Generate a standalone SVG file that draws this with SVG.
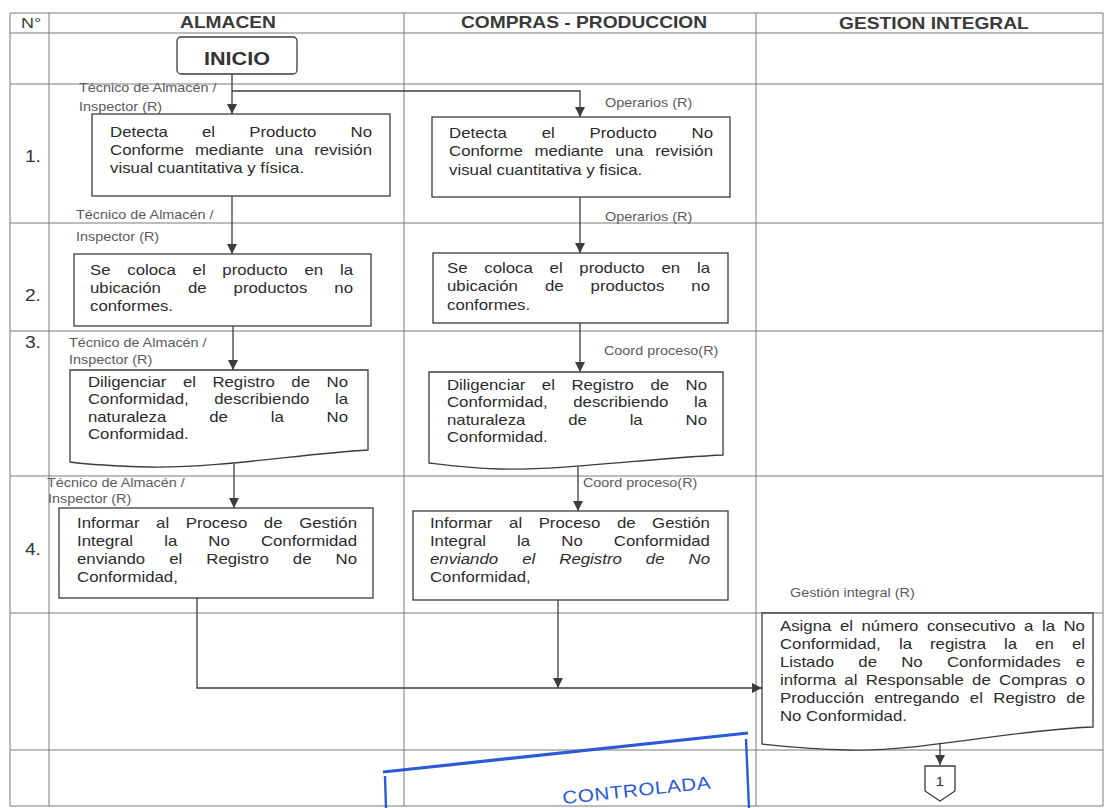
<svg xmlns="http://www.w3.org/2000/svg" width="1107" height="808" viewBox="0 0 1107 808">
  <style>
    text { font-family: "Liberation Sans", Arial, sans-serif; }
    .sx { transform: scale(1.2,1); transform-origin: 0 0; transform-box: view-box; }
    .grid { stroke: #7a7a7a; stroke-width: 1; fill: none; }
    .box { fill: #fff; stroke: #3c3c3c; stroke-width: 1.3; }
    .conn { stroke: #3c3c3c; stroke-width: 1.3; fill: none; }
    .arr { marker-end: url(#ah); }
    .bt { font-size: 14px; fill: #2b2b2b; }
    .lb { font-size: 12px; fill: #5a5a5a; }
    .hd { font-size: 16px; font-weight: bold; fill: #3a3a3a; text-anchor: middle; }
    .num { font-size: 16px; fill: #333; }
    .stamp { stroke: #2a5ad6; fill: none; }
  </style>
  <defs>
    <marker id="ah" markerUnits="userSpaceOnUse" markerWidth="10" markerHeight="10" refX="10" refY="5" orient="auto">
      <path d="M0,0 L10,5 L0,10 z" fill="#3c3c3c"/>
    </marker>
  </defs>

  <rect width="1107" height="808" fill="#fff"/>

  <!-- table grid -->
  <g id="grid" class="grid">
    <path d="M10,13 H1103 M10,33 H1103 M10,84 H1103 M10,223 H1103 M10,331 H1103 M10,476 H1103 M10,613 H1103 M10,750 H1103 M10,806 H1103"/>
    <path d="M10,13 V806 M49,13 V806 M404,13 V806 M756,13 V806 M1103,13 V806"/>
  </g>

  <!-- column headings and step numbers -->
  <g id="headers">
    <text class="sx" x="17.5" y="28" style="font-size:15px;fill:#3a3a3a">N°</text>
    <text class="hd sx" x="190" y="28.5">ALMACEN</text>
    <text class="hd sx" x="486.7" y="28.5">COMPRAS - PRODUCCION</text>
    <text class="hd sx" x="778.3" y="29.5">GESTION INTEGRAL</text>
    <text class="num sx" x="20.8" y="162">1.</text>
    <text class="num sx" x="20.8" y="301">2.</text>
    <text class="num sx" x="20.8" y="348">3.</text>
    <text class="num sx" x="20.8" y="555">4.</text>
  </g>

  <!-- connectors -->
  <g id="connectors">
    <path class="conn arr" d="M232,74 V114"/>
    <path class="conn arr" d="M232,91 H580 V117"/>
    <path class="conn arr" d="M232,196 V254"/>
    <path class="conn arr" d="M580,197 V253"/>
    <path class="conn arr" d="M233,326 V370"/>
    <path class="conn arr" d="M580,323 V372"/>
    <path class="conn arr" d="M234,464 V508"/>
    <path class="conn arr" d="M578,465 V511"/>
    <path class="conn arr" d="M197,598 V688 H762"/>
    <path class="conn arr" d="M558,600 V688"/>
    <path class="conn arr" d="M940,744 V765"/>
  </g>

  <!-- start terminal -->
  <g id="inicio">
    <rect class="box" x="177" y="37" width="120" height="37" rx="4"/>
    <text class="sx" x="197.5" y="65" style="font-size:18px;font-weight:bold;fill:#333;text-anchor:middle">INICIO</text>
  </g>

  <!-- step 1 -->
  <g id="step1-almacen">
    <text class="lb sx" x="65.8" y="92.5">Técnico de Almacén /</text>
    <text class="lb sx" x="65.8" y="111">Inspector (R)</text>
    <rect class="box" x="92" y="114" width="298" height="82"/>
    <text class="bt sx" y="137"><tspan x="91.7">Detecta</tspan><tspan x="168.3">el</tspan><tspan x="207.7">Producto</tspan><tspan x="292.1">No</tspan></text>
    <text class="bt sx" y="155"><tspan x="91.7">Conforme</tspan><tspan x="162.4">mediante</tspan><tspan x="229.2">una</tspan><tspan x="261.8">revisión</tspan></text>
    <text class="bt sx" x="91.7" y="173">visual cuantitativa y física.</text>
  </g>
  <g id="step1-compras">
    <text class="lb sx" x="504.2" y="107">Operarios (R)</text>
    <rect class="box" x="432" y="117" width="298" height="80"/>
    <text class="bt sx" y="138"><tspan x="374.2">Detecta</tspan><tspan x="451.4">el</tspan><tspan x="491.3">Producto</tspan><tspan x="576.3">No</tspan></text>
    <text class="bt sx" y="156.5"><tspan x="374.2">Conforme</tspan><tspan x="445.4">mediante</tspan><tspan x="512.8">una</tspan><tspan x="546">revisión</tspan></text>
    <text class="bt sx" x="374.2" y="175">visual cuantitativa y fisica.</text>
  </g>

  <!-- step 2 -->
  <g id="step2-almacen">
    <text class="lb sx" x="63.3" y="219">Técnico de Almacén /</text>
    <text class="lb sx" x="63.3" y="241">Inspector (R)</text>
    <rect class="box" x="74" y="254" width="297" height="72"/>
    <text class="bt sx" y="275"><tspan x="75">Se</tspan><tspan x="106.1">coloca</tspan><tspan x="160.5">el</tspan><tspan x="185.3">producto</tspan><tspan x="253.75">en</tspan><tspan x="283.3">la</tspan></text>
    <text class="bt sx" y="293"><tspan x="75">ubicación</tspan><tspan x="156.6">de</tspan><tspan x="194.65">productos</tspan><tspan x="278.6">no</tspan></text>
    <text class="bt sx" x="75" y="311">conformes.</text>
  </g>
  <g id="step2-compras">
    <text class="lb sx" x="504.2" y="221">Operarios (R)</text>
    <rect class="box" x="433" y="253" width="295" height="70"/>
    <text class="bt sx" y="273"><tspan x="372.5">Se</tspan><tspan x="403.6">coloca</tspan><tspan x="458">el</tspan><tspan x="482.8">producto</tspan><tspan x="551.25">en</tspan><tspan x="580.8">la</tspan></text>
    <text class="bt sx" y="291.5"><tspan x="372.5">ubicación</tspan><tspan x="454.1">de</tspan><tspan x="492.15">productos</tspan><tspan x="576.1">no</tspan></text>
    <text class="bt sx" x="372.5" y="310">conformes.</text>
  </g>

  <!-- step 3 (documents) -->
  <g id="step3-almacen">
    <text class="lb sx" x="57.5" y="347">Técnico de Almacén /</text>
    <text class="lb sx" x="57.5" y="364">Inspector (R)</text>
    <path class="box" d="M70,370 H368 V450 C300,454 220,468 150,467 C110,466 85,464 70,462 Z"/>
    <text class="bt sx" y="387"><tspan x="73.3">Diligenciar</tspan><tspan x="152.4">el</tspan><tspan x="177">Registro</tspan><tspan x="242.8">de</tspan><tspan x="272.1">No</tspan></text>
    <text class="bt sx" y="404.5"><tspan x="73.3">Conformidad,</tspan><tspan x="178.55">describiendo</tspan><tspan x="279.1">la</tspan></text>
    <text class="bt sx" y="422"><tspan x="73.3">naturaleza</tspan><tspan x="174.3">de</tspan><tspan x="225.55">la</tspan><tspan x="272.1">No</tspan></text>
    <text class="bt sx" x="73.3" y="439.5">Conformidad.</text>
  </g>
  <g id="step3-compras">
    <text class="lb sx" x="503.3" y="355">Coord proceso(R)</text>
    <path class="box" d="M429,372 H723 V455 C650,458 570,470 500,469 C465,468 445,465 429,463 Z"/>
    <text class="bt sx" y="390"><tspan x="372.5">Diligenciar</tspan><tspan x="451.55">el</tspan><tspan x="476.15">Registro</tspan><tspan x="542">de</tspan><tspan x="571.3">No</tspan></text>
    <text class="bt sx" y="407.5"><tspan x="372.5">Conformidad,</tspan><tspan x="477.7">describiendo</tspan><tspan x="578.3">la</tspan></text>
    <text class="bt sx" y="425"><tspan x="372.5">naturaleza</tspan><tspan x="473.5">de</tspan><tspan x="524.7">la</tspan><tspan x="571.3">No</tspan></text>
    <text class="bt sx" x="372.5" y="442.5">Conformidad.</text>
  </g>

  <!-- step 4 -->
  <g id="step4-almacen">
    <text class="lb sx" x="39.2" y="487">Técnico de Almacén /</text>
    <text class="lb sx" x="40" y="503">Inspector (R)</text>
    <rect class="box" x="59" y="508" width="314" height="90"/>
    <text class="bt sx" y="528"><tspan x="64.2">Informar</tspan><tspan x="130.1">al</tspan><tspan x="154.8">Proceso</tspan><tspan x="219.9">de</tspan><tspan x="249.3">Gestión</tspan></text>
    <text class="bt sx" y="546"><tspan x="64.2">Integral</tspan><tspan x="136.8">la</tspan><tspan x="173.6">No</tspan><tspan x="217.4">Conformidad</tspan></text>
    <text class="bt sx" y="564"><tspan x="64.2">enviando</tspan><tspan x="141">el</tspan><tspan x="171.9">Registro</tspan><tspan x="244">de</tspan><tspan x="279.6">No</tspan></text>
    <text class="bt sx" x="64.2" y="582">Conformidad,</text>
  </g>
  <g id="step4-compras">
    <text class="lb sx" x="485.8" y="487">Coord proceso(R)</text>
    <rect class="box" x="413" y="511" width="315" height="89"/>
    <text class="bt sx" y="528"><tspan x="358.3">Informar</tspan><tspan x="424.25">al</tspan><tspan x="448.9">Proceso</tspan><tspan x="514.1">de</tspan><tspan x="543.4">Gestión</tspan></text>
    <text class="bt sx" y="546"><tspan x="358.3">Integral</tspan><tspan x="430.9">la</tspan><tspan x="467.75">No</tspan><tspan x="511.5">Conformidad</tspan></text>
    <text class="bt sx" y="564" style="font-style:italic"><tspan x="358.3">enviando</tspan><tspan x="435.2">el</tspan><tspan x="466.1">Registro</tspan><tspan x="538.2">de</tspan><tspan x="573.8">No</tspan></text>
    <text class="bt sx" x="358.3" y="582">Conformidad,</text>
  </g>

  <!-- step 5: integral management -->
  <g id="step5-gestion">
    <text class="lb sx" x="658.3" y="597">Gestión integral (R)</text>
    <path class="box" d="M762,613 H1093 V727 C1010,730 920,752 850,750 C805,749 780,746 762,744 Z"/>
    <text class="bt sx" y="631"><tspan x="650">Asigna</tspan><tspan x="699.9">el</tspan><tspan x="717.9">número</tspan><tspan x="772.4">consecutivo</tspan><tspan x="853.4">a</tspan><tspan x="868.3">la</tspan><tspan x="886.2">No</tspan></text>
    <text class="bt sx" y="649"><tspan x="650">Conformidad,</tspan><tspan x="749.1">la</tspan><tspan x="775">registra</tspan><tspan x="836.7">la</tspan><tspan x="862.7">en</tspan><tspan x="893.3">el</tspan></text>
    <text class="bt sx" y="667"><tspan x="650">Listado</tspan><tspan x="715.3">de</tspan><tspan x="751">No</tspan><tspan x="789.1">Conformidades</tspan><tspan x="896.4">e</tspan></text>
    <text class="bt sx" y="685"><tspan x="650">informa</tspan><tspan x="703.6">al</tspan><tspan x="721.5">Responsable</tspan><tspan x="810.1">de</tspan><tspan x="832.6">Compras</tspan><tspan x="896.4">o</tspan></text>
    <text class="bt sx" y="703"><tspan x="650">Producción</tspan><tspan x="728.7">entregando</tspan><tspan x="808.2">el</tspan><tspan x="827.8">Registro</tspan><tspan x="888.6">de</tspan></text>
    <text class="bt sx" x="650" y="721">No Conformidad.</text>
  </g>

  <!-- off-page connector -->
  <g id="connector-1">
    <path class="box" d="M925,766 H955 V791 L940,801 L925,791 Z"/>
    <text class="sx" x="783.3" y="786" style="font-size:13px;fill:#333;text-anchor:middle">1</text>
  </g>

  <!-- rubber stamp -->
  <g id="stamp">
    <path class="stamp" d="M383,772 L748,733" stroke-width="3.2"/>
    <path class="stamp" d="M385,776 L386,808" stroke-width="2.4"/>
    <path class="stamp" d="M746,739 L749,808" stroke-width="2.4"/>
    <text transform="translate(563,804) rotate(-6) scale(1.15,1)" x="0" y="0" style="font-size:18px;fill:#2a5ad6;letter-spacing:0.5px">CONTROLADA</text>
  </g>
</svg>
